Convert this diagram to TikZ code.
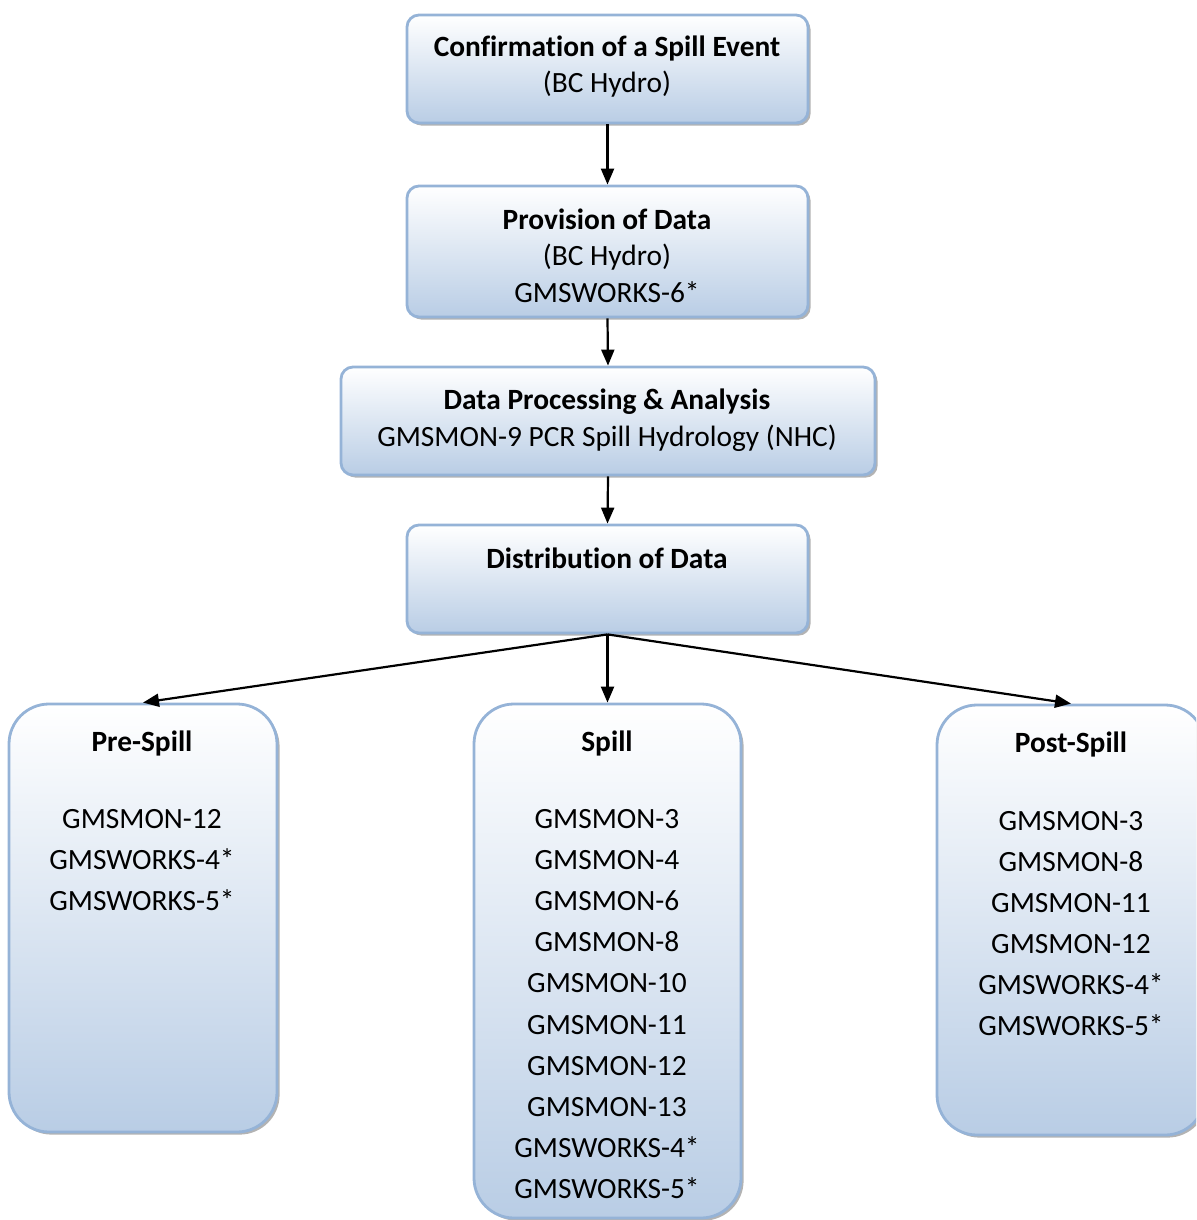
\documentclass[tikz,border=0pt]{standalone}
\usepackage{fontspec}
\setmainfont[Ligatures=NoCommon]{Carlito}
\usetikzlibrary{shadows,arrows.meta}
\definecolor{boxblue}{HTML}{B9CDE5}
\definecolor{boxedge}{HTML}{95B3D7}
\begin{document}
\begin{tikzpicture}[x=0.5pt,y=-0.5pt,
  box/.style={draw=boxedge, line width=1.4pt, top color=white, bottom color=boxblue,
    rounded corners=6pt, inner sep=0pt,
    drop shadow={shadow xshift=1.3pt, shadow yshift=-1.3pt, fill=black!50, opacity=0.6}},
  bigbox/.style={box, rounded corners=20pt},
  txt/.style={font=\fontsize{14.7}{17}\selectfont, inner sep=0pt, anchor=base},
  ttl/.style={txt, font=\fontsize{14.7}{17}\selectfont\bfseries},
  arr/.style={-{Triangle[length=8pt,width=6.5pt]}, line width=1.1pt}]
\useasboundingbox (0,0) rectangle (1196,1220);
\clip (0,0) rectangle (1196,1220);

% boxes
\node[box, minimum width=200.5pt, minimum height=54pt] (b1) at (607.5,69) {};
\node[box, minimum width=200.5pt, minimum height=65.5pt] (b2) at (607.5,251.5) {};
\node[box, minimum width=267pt, minimum height=54pt] (b3) at (608,421) {};
\node[box, minimum width=200.5pt, minimum height=54pt] (b4) at (607.5,579) {};
\node[bigbox, minimum width=134pt, minimum height=214pt] (pre) at (143,918) {};
\node[bigbox, minimum width=133.5pt, minimum height=257pt] (spill) at (607.5,961) {};
\node[bigbox, minimum width=134pt, minimum height=215pt] (post) at (1071,920) {};

% texts
\node[ttl] (b1t) at (607,57) {Confirmation of a Spill Event};
\node[txt] (b1s) at (607,93) {(BC Hydro)};
\node[ttl] (b2t) at (607,229) {Provision of Data};
\node[txt] (b2s) at (607,265) {(BC Hydro)};
\node[txt] (b2u) at (607,302) {GMSWORKS-6*};
\node[ttl] (b3t) at (607,409) {Data Processing \& Analysis};
\node[txt] (b3s) at (607,446) {GMSMON-9 PCR Spill Hydrology (NHC)};
\node[ttl] (b4t) at (607,568) {Distribution of Data};

\node[ttl] (pret) at (142,751) {Pre-Spill};
\node[txt] (pre1) at (142,828) {GMSMON-12};
\node[txt] (pre2) at (142,869) {GMSWORKS-4*};
\node[txt] (pre3) at (142,910) {GMSWORKS-5*};

\node[ttl] (spt) at (607,751) {Spill};
\node[txt] (sp1) at (607,828) {GMSMON-3};
\node[txt] (sp2) at (607,869) {GMSMON-4};
\node[txt] (sp3) at (607,910) {GMSMON-6};
\node[txt] (sp4) at (607,951) {GMSMON-8};
\node[txt] (sp5) at (607,992) {GMSMON-10};
\node[txt] (sp6) at (607,1034) {GMSMON-11};
\node[txt] (sp7) at (607,1075) {GMSMON-12};
\node[txt] (sp8) at (607,1116) {GMSMON-13};
\node[txt] (sp9) at (607,1157) {GMSWORKS-4*};
\node[txt] (sp10) at (607,1198) {GMSWORKS-5*};

\node[ttl] (postt) at (1071,752) {Post-Spill};
\node[txt] (post1) at (1071,830) {GMSMON-3};
\node[txt] (post2) at (1071,871) {GMSMON-8};
\node[txt] (post3) at (1071,912) {GMSMON-11};
\node[txt] (post4) at (1071,953) {GMSMON-12};
\node[txt] (post5) at (1071,994) {GMSWORKS-4*};
\node[txt] (post6) at (1071,1035) {GMSWORKS-5*};

% connectors
\draw[arr] (b1.south) -- (b2.north);
\draw[arr] (b2.south) -- (b3.north);
\draw[arr] (b3.south) -- (b4.north);
\draw[arr] (b4.south) -- (pre.north);
\draw[arr] (b4.south) -- (spill.north);
\draw[arr] (b4.south) -- (post.north);
\end{tikzpicture}
\end{document}
